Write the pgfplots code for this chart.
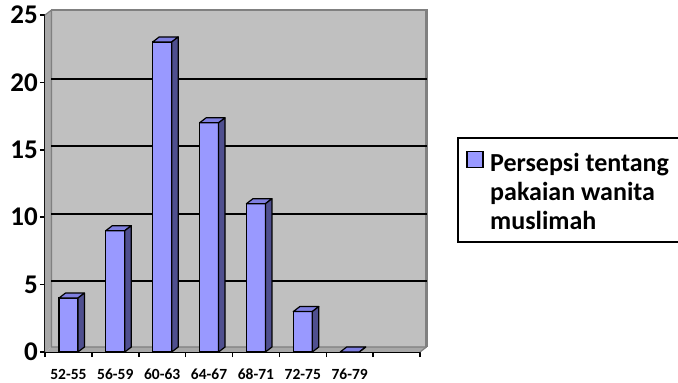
\documentclass[border=0pt]{standalone}
\usepackage{fontspec}
\setmainfont{Carlito}
\usepackage{pgfplots}
\pgfplotsset{compat=1.18}
\definecolor{barfront}{HTML}{9999FF}
\definecolor{bartop}{HTML}{7F7FE0}
\definecolor{barside}{HTML}{4F4F8F}
\definecolor{wall}{HTML}{C0C0C0}
\definecolor{wallside}{HTML}{A8A8A8}
\definecolor{walledge}{HTML}{808080}

\pgfdeclareplotmark{bar3d}{%
  \pgfmathsetmacro\hh{\val*13.48}%
  \filldraw[fill=bartop,draw=black,line width=1.2pt,line join=round] (-9.5pt,0pt) -- (-3pt,5pt) -- (16pt,5pt) -- (9.5pt,0pt) -- cycle;
  \filldraw[fill=barside,draw=black,line width=1.2pt,line join=round] (9.5pt,0pt) -- (16pt,5pt) -- ({16pt},{5pt-\hh pt}) -- ({9.5pt},{-\hh pt}) -- cycle;
}

\begin{document}
\begin{tikzpicture}
\path[use as bounding box] (0,0) rectangle (678pt,383pt);
\begin{axis}[
  at={(45pt,31pt)}, anchor=south west, scale only axis,
  width=375pt, height=337pt,
  xmin=0, xmax=8, ymin=0, ymax=25,
  axis x line=bottom, axis y line=left,
  axis line style={-, line width=1.8pt, black},
  xtick={0,...,8}, xticklabels={},
  extra x ticks={0.5,1.5,...,6.5},
  extra x tick labels={52-55,56-59,60-63,64-67,68-71,72-75,76-79},
  extra x tick style={major tick length=0pt, grid=none},
  ytick={0,5,...,25},
  tick align=outside, major tick length=5pt,
  tick style={line width=1.5pt, black},
  /pgf/number format/assume math mode=true,
  yticklabel style={font=\fontsize{27}{27}\selectfont\bfseries, inner sep=0pt, xshift=-2pt},
  xticklabel style={font=\fontsize{15.5}{15.5}\selectfont\bfseries, inner sep=0pt, yshift=-17pt},
  clip=false,
]
% walls
\fill[wallside] (rel axis cs:0,0) -- (rel axis cs:0,1) -- ([shift={(6.5pt,5pt)}]rel axis cs:0,1) -- ([shift={(6.5pt,5pt)}]rel axis cs:0,0) -- cycle;
\fill[wall] ([shift={(6.5pt,5pt)}]rel axis cs:0,0) rectangle ([shift={(6.5pt,5pt)}]rel axis cs:1,1);
\fill[wallside] (rel axis cs:0,0) -- (rel axis cs:1,0) -- ([shift={(6.5pt,5pt)}]rel axis cs:1,0) -- ([shift={(6.5pt,5pt)}]rel axis cs:0,0) -- cycle;
\draw[walledge, line width=2.5pt] ([shift={(6.5pt,5pt)}]rel axis cs:0,1) -- ([shift={(6.5pt,5pt)}]rel axis cs:1,1) -- ([shift={(6.5pt,5pt)}]rel axis cs:1,0);
\draw[walledge, line width=1.2pt] (rel axis cs:0,1) -- ([shift={(6.5pt,5pt)}]rel axis cs:0,1) -- ([shift={(6.5pt,5pt)}]rel axis cs:0,0) -- ([shift={(6.5pt,5pt)}]rel axis cs:1,0);
\draw[walledge, line width=1.2pt] (rel axis cs:1,0) -- ([shift={(6.5pt,5pt)}]rel axis cs:1,0);
\pgfplotsinvokeforeach{5,10,15,20}{
  \draw[black, line width=1.8pt] ([shift={(6.5pt,3.5pt)}]axis cs:0,#1) -- ([shift={(6.5pt,3.5pt)}]axis cs:8,#1);
}
% bars
\addplot[ybar, bar width=19pt, fill=barfront, draw=black, line width=1.2pt] coordinates {
  (0.5,4) (1.5,9) (2.5,23) (3.5,17) (4.5,11) (5.5,3) (6.5,0)};
\addplot[only marks, mark=bar3d, visualization depends on={y \as \val}] coordinates {
  (0.5,4) (1.5,9) (2.5,23) (3.5,17) (4.5,11) (5.5,3) (6.5,0)};
\end{axis}
% legend
\draw[black, line width=2pt] (458pt,141pt) rectangle (690pt,245pt);
\filldraw[fill=barfront, draw=black, line width=1.2pt] (467pt,215.5pt) rectangle (483pt,231.5pt);
\begin{scope}[every node/.style={anchor=base west, inner sep=0pt, font=\fontsize{26}{26}\selectfont\bfseries}]
\node at (490pt,211pt) {Persepsi tentang};
\node at (490pt,182pt) {pakaian wanita};
\node at (490pt,153pt) {muslimah};
\end{scope}
\end{tikzpicture}
\end{document}
